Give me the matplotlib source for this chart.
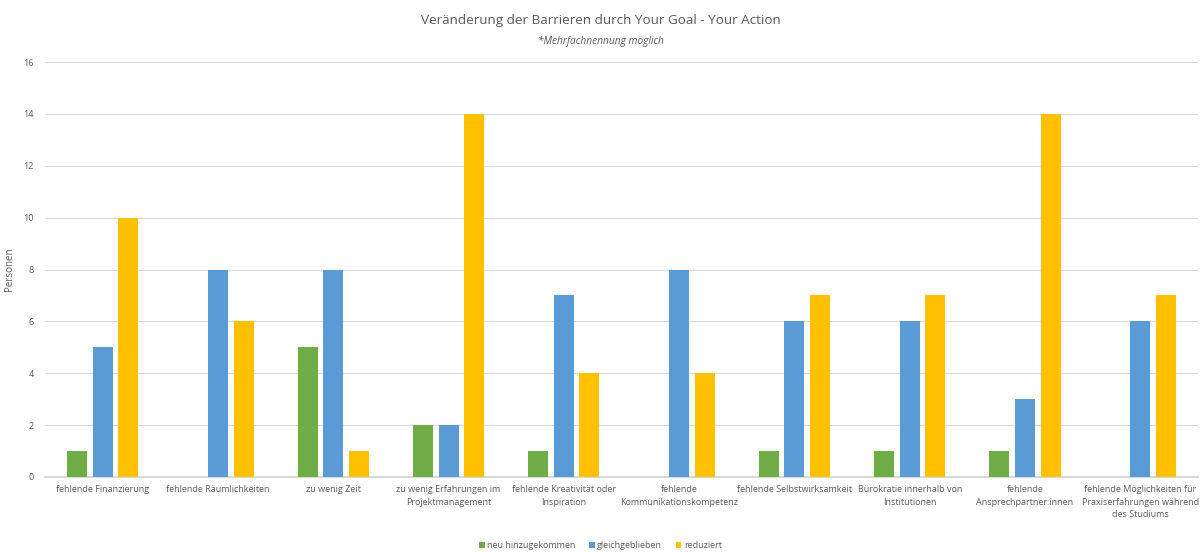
import numpy as np
import matplotlib
matplotlib.use("Agg")
import matplotlib.pyplot as plt

plt.rcParams['font.family'] = ['Open Sans', 'DejaVu Sans']

categories = [
    "fehlende Finanzierung",
    "fehlende Räumlichkeiten",
    "zu wenig Zeit",
    "zu wenig Erfahrungen im\nProjektmanagement",
    "fehlende Kreativität oder\nInspiration",
    "fehlende\nKommunikationskompetenz",
    "fehlende Selbstwirksamkeit",
    "Bürokratie innerhalb von\nInstitutionen",
    "fehlende\nAnsprechpartner:innen",
    "fehlende Möglichkeiten für\nPraxiserfahrungen während\ndes Studiums",
]
neu = [1, 0, 5, 2, 1, 0, 1, 1, 1, 0]
gleich = [5, 8, 8, 2, 7, 8, 6, 6, 3, 6]
reduziert = [10, 6, 1, 14, 4, 4, 7, 7, 14, 7]

series = [("neu hinzugekommen", neu, "#70AD47"),
          ("gleichgeblieben", gleich, "#5B9BD5"),
          ("reduziert", reduziert, "#FFC000")]

TEXT = "#595959"
GRID = "#D9D9D9"

fig = plt.figure(figsize=(12.01, 5.52), dpi=100)
ax = fig.add_axes([45 / 1201, 1 - 477 / 552, 1153 / 1201, 415 / 552])

x = np.arange(len(categories))
w = 0.173
step = 0.222
for i, (name, vals, col) in enumerate(series):
    ax.bar(x + (i - 1) * step, vals, width=w, color=col, label=name, zorder=3)

ax.set_xlim(-0.5, len(categories) - 0.5)
ax.set_ylim(0, 16)
ax.set_yticks(range(0, 17, 2))
ax.yaxis.grid(True, color=GRID, linewidth=0.8, zorder=0)
ax.set_axisbelow(True)
for s in ["top", "right", "left"]:
    ax.spines[s].set_visible(False)
ax.spines["bottom"].set_color(GRID)
ax.spines["bottom"].set_linewidth(1.5)
ax.tick_params(axis="both", length=0, colors=TEXT, labelsize=6.5)
ax.tick_params(axis="y", pad=8)
ax.tick_params(axis="x", pad=6)
ax.set_xticks(x)
ax.set_xticklabels(categories, linespacing=1.5)
ax.set_ylabel("Personen", color=TEXT, fontsize=7, labelpad=6)

fig.text(0.5, 0.963, "Veränderung der Barrieren durch Your Goal - Your Action",
         ha="center", va="center", color=TEXT, fontsize=9.7)
fig.text(0.5, 0.925, "*Mehrfachnennung möglich", ha="center", va="center",
         color=TEXT, fontsize=7.3, style="italic")

leg = fig.legend(loc="center", bbox_to_anchor=(0.5, 0.012), ncol=3, frameon=False,
                 fontsize=6.5, handlelength=0.6, handleheight=0.6, handletextpad=0.3,
                 columnspacing=1.5)
for t in leg.get_texts():
    t.set_color(TEXT)

fig.savefig("out.png", dpi=100)
